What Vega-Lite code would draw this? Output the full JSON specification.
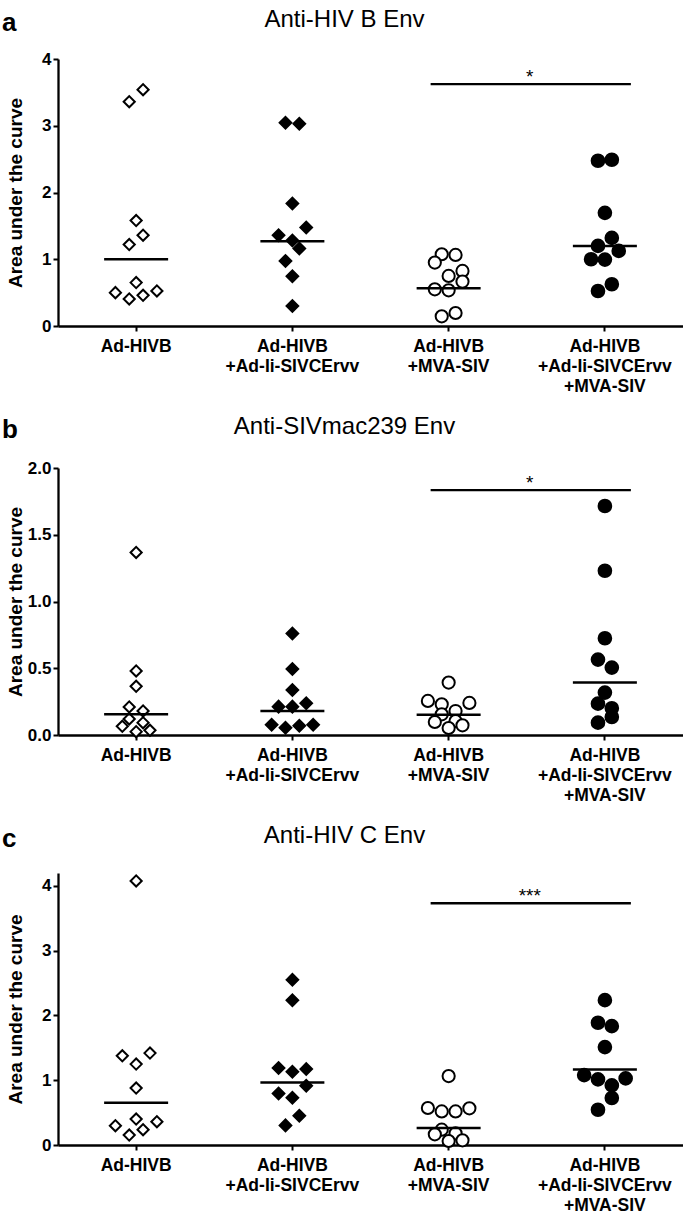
{
  "$schema": "https://vega.github.io/schema/vega-lite/v6.json",
  "background": "white",
  "padding": {"left": 1, "top": 8, "right": 0, "bottom": 0},
  "config": {
    "font": "Liberation Sans",
    "view": {"stroke": null},
    "concat": {"spacing": 20},
    "axis": {
      "grid": false, "domainColor": "black", "domainWidth": 2.3, "tickColor": "black", "tickWidth": 2,
      "labelColor": "black", "labelFont": "Liberation Sans", "labelFontWeight": "bold", "labelFontSize": 17,
      "titleFont": "Liberation Sans", "titleFontWeight": "bold", "titleFontSize": 19, "titleColor": "black"
    },
    "title": {"font": "Liberation Sans", "color": "black"}
  },
  "datasets": {
    "points": [
      {"panel": "a", "group": "Ad-HIVB", "slot": -1, "auc": 3.36},
      {"panel": "a", "group": "Ad-HIVB", "slot": 1, "auc": 3.54},
      {"panel": "a", "group": "Ad-HIVB", "slot": 0, "auc": 1.58},
      {"panel": "a", "group": "Ad-HIVB", "slot": 1, "auc": 1.36},
      {"panel": "a", "group": "Ad-HIVB", "slot": -1, "auc": 1.22},
      {"panel": "a", "group": "Ad-HIVB", "slot": 0, "auc": 0.65},
      {"panel": "a", "group": "Ad-HIVB", "slot": -3, "auc": 0.5},
      {"panel": "a", "group": "Ad-HIVB", "slot": -1, "auc": 0.405},
      {"panel": "a", "group": "Ad-HIVB", "slot": 1, "auc": 0.46},
      {"panel": "a", "group": "Ad-HIVB", "slot": 3, "auc": 0.525},
      {"panel": "a", "group": "Ad-HIVB +Ad-Ii-SIVCErvv", "slot": -1, "auc": 3.045},
      {"panel": "a", "group": "Ad-HIVB +Ad-Ii-SIVCErvv", "slot": 1, "auc": 3.03},
      {"panel": "a", "group": "Ad-HIVB +Ad-Ii-SIVCErvv", "slot": 0, "auc": 1.835},
      {"panel": "a", "group": "Ad-HIVB +Ad-Ii-SIVCErvv", "slot": 2, "auc": 1.475},
      {"panel": "a", "group": "Ad-HIVB +Ad-Ii-SIVCErvv", "slot": -2, "auc": 1.36},
      {"panel": "a", "group": "Ad-HIVB +Ad-Ii-SIVCErvv", "slot": 0, "auc": 1.28},
      {"panel": "a", "group": "Ad-HIVB +Ad-Ii-SIVCErvv", "slot": 1, "auc": 1.16},
      {"panel": "a", "group": "Ad-HIVB +Ad-Ii-SIVCErvv", "slot": -1, "auc": 0.975},
      {"panel": "a", "group": "Ad-HIVB +Ad-Ii-SIVCErvv", "slot": 0, "auc": 0.745},
      {"panel": "a", "group": "Ad-HIVB +Ad-Ii-SIVCErvv", "slot": 0, "auc": 0.3},
      {"panel": "a", "group": "Ad-HIVB +MVA-SIV", "slot": -1, "auc": 1.075},
      {"panel": "a", "group": "Ad-HIVB +MVA-SIV", "slot": 1, "auc": 1.065},
      {"panel": "a", "group": "Ad-HIVB +MVA-SIV", "slot": -2, "auc": 0.95},
      {"panel": "a", "group": "Ad-HIVB +MVA-SIV", "slot": 2, "auc": 0.825},
      {"panel": "a", "group": "Ad-HIVB +MVA-SIV", "slot": 0, "auc": 0.75},
      {"panel": "a", "group": "Ad-HIVB +MVA-SIV", "slot": 2, "auc": 0.665},
      {"panel": "a", "group": "Ad-HIVB +MVA-SIV", "slot": -2, "auc": 0.55},
      {"panel": "a", "group": "Ad-HIVB +MVA-SIV", "slot": 0, "auc": 0.535},
      {"panel": "a", "group": "Ad-HIVB +MVA-SIV", "slot": -1, "auc": 0.145},
      {"panel": "a", "group": "Ad-HIVB +MVA-SIV", "slot": 1, "auc": 0.195},
      {"panel": "a", "group": "Ad-HIVB +Ad-Ii-SIVCErvv +MVA-SIV", "slot": -1, "auc": 2.475},
      {"panel": "a", "group": "Ad-HIVB +Ad-Ii-SIVCErvv +MVA-SIV", "slot": 1, "auc": 2.49},
      {"panel": "a", "group": "Ad-HIVB +Ad-Ii-SIVCErvv +MVA-SIV", "slot": 0, "auc": 1.695},
      {"panel": "a", "group": "Ad-HIVB +Ad-Ii-SIVCErvv +MVA-SIV", "slot": 1, "auc": 1.32},
      {"panel": "a", "group": "Ad-HIVB +Ad-Ii-SIVCErvv +MVA-SIV", "slot": -1, "auc": 1.2},
      {"panel": "a", "group": "Ad-HIVB +Ad-Ii-SIVCErvv +MVA-SIV", "slot": 2, "auc": 1.125},
      {"panel": "a", "group": "Ad-HIVB +Ad-Ii-SIVCErvv +MVA-SIV", "slot": -2, "auc": 1.0},
      {"panel": "a", "group": "Ad-HIVB +Ad-Ii-SIVCErvv +MVA-SIV", "slot": 0, "auc": 0.995},
      {"panel": "a", "group": "Ad-HIVB +Ad-Ii-SIVCErvv +MVA-SIV", "slot": 1, "auc": 0.625},
      {"panel": "a", "group": "Ad-HIVB +Ad-Ii-SIVCErvv +MVA-SIV", "slot": -1, "auc": 0.525},

      {"panel": "b", "group": "Ad-HIVB", "slot": 0, "auc": 1.3675},
      {"panel": "b", "group": "Ad-HIVB", "slot": 0, "auc": 0.48},
      {"panel": "b", "group": "Ad-HIVB", "slot": 0, "auc": 0.365},
      {"panel": "b", "group": "Ad-HIVB", "slot": -1, "auc": 0.21},
      {"panel": "b", "group": "Ad-HIVB", "slot": 1, "auc": 0.18},
      {"panel": "b", "group": "Ad-HIVB", "slot": -1, "auc": 0.12},
      {"panel": "b", "group": "Ad-HIVB", "slot": 1, "auc": 0.0925},
      {"panel": "b", "group": "Ad-HIVB", "slot": -2, "auc": 0.065},
      {"panel": "b", "group": "Ad-HIVB", "slot": 2, "auc": 0.035},
      {"panel": "b", "group": "Ad-HIVB", "slot": 0, "auc": 0.025},
      {"panel": "b", "group": "Ad-HIVB +Ad-Ii-SIVCErvv", "slot": 0, "auc": 0.76},
      {"panel": "b", "group": "Ad-HIVB +Ad-Ii-SIVCErvv", "slot": 0, "auc": 0.495},
      {"panel": "b", "group": "Ad-HIVB +Ad-Ii-SIVCErvv", "slot": 0, "auc": 0.3375},
      {"panel": "b", "group": "Ad-HIVB +Ad-Ii-SIVCErvv", "slot": -2, "auc": 0.2125},
      {"panel": "b", "group": "Ad-HIVB +Ad-Ii-SIVCErvv", "slot": 0, "auc": 0.2125},
      {"panel": "b", "group": "Ad-HIVB +Ad-Ii-SIVCErvv", "slot": 2, "auc": 0.2375},
      {"panel": "b", "group": "Ad-HIVB +Ad-Ii-SIVCErvv", "slot": -3, "auc": 0.0775},
      {"panel": "b", "group": "Ad-HIVB +Ad-Ii-SIVCErvv", "slot": -1, "auc": 0.055},
      {"panel": "b", "group": "Ad-HIVB +Ad-Ii-SIVCErvv", "slot": 1, "auc": 0.07},
      {"panel": "b", "group": "Ad-HIVB +Ad-Ii-SIVCErvv", "slot": 3, "auc": 0.0775},
      {"panel": "b", "group": "Ad-HIVB +MVA-SIV", "slot": 0, "auc": 0.3925},
      {"panel": "b", "group": "Ad-HIVB +MVA-SIV", "slot": -3, "auc": 0.255},
      {"panel": "b", "group": "Ad-HIVB +MVA-SIV", "slot": -1, "auc": 0.23},
      {"panel": "b", "group": "Ad-HIVB +MVA-SIV", "slot": 3, "auc": 0.24},
      {"panel": "b", "group": "Ad-HIVB +MVA-SIV", "slot": 1, "auc": 0.18},
      {"panel": "b", "group": "Ad-HIVB +MVA-SIV", "slot": -1, "auc": 0.155},
      {"panel": "b", "group": "Ad-HIVB +MVA-SIV", "slot": -2, "auc": 0.0975},
      {"panel": "b", "group": "Ad-HIVB +MVA-SIV", "slot": 1, "auc": 0.105},
      {"panel": "b", "group": "Ad-HIVB +MVA-SIV", "slot": 2, "auc": 0.0725},
      {"panel": "b", "group": "Ad-HIVB +MVA-SIV", "slot": 0, "auc": 0.0525},
      {"panel": "b", "group": "Ad-HIVB +Ad-Ii-SIVCErvv +MVA-SIV", "slot": 0, "auc": 1.715},
      {"panel": "b", "group": "Ad-HIVB +Ad-Ii-SIVCErvv +MVA-SIV", "slot": 0, "auc": 1.23},
      {"panel": "b", "group": "Ad-HIVB +Ad-Ii-SIVCErvv +MVA-SIV", "slot": 0, "auc": 0.725},
      {"panel": "b", "group": "Ad-HIVB +Ad-Ii-SIVCErvv +MVA-SIV", "slot": -1, "auc": 0.565},
      {"panel": "b", "group": "Ad-HIVB +Ad-Ii-SIVCErvv +MVA-SIV", "slot": 1, "auc": 0.505},
      {"panel": "b", "group": "Ad-HIVB +Ad-Ii-SIVCErvv +MVA-SIV", "slot": 0, "auc": 0.3175},
      {"panel": "b", "group": "Ad-HIVB +Ad-Ii-SIVCErvv +MVA-SIV", "slot": -1, "auc": 0.235},
      {"panel": "b", "group": "Ad-HIVB +Ad-Ii-SIVCErvv +MVA-SIV", "slot": 1, "auc": 0.2},
      {"panel": "b", "group": "Ad-HIVB +Ad-Ii-SIVCErvv +MVA-SIV", "slot": 1, "auc": 0.135},
      {"panel": "b", "group": "Ad-HIVB +Ad-Ii-SIVCErvv +MVA-SIV", "slot": -1, "auc": 0.0925},

      {"panel": "c", "group": "Ad-HIVB", "slot": 0, "auc": 4.077},
      {"panel": "c", "group": "Ad-HIVB", "slot": -2, "auc": 1.378},
      {"panel": "c", "group": "Ad-HIVB", "slot": 2, "auc": 1.419},
      {"panel": "c", "group": "Ad-HIVB", "slot": 0, "auc": 1.249},
      {"panel": "c", "group": "Ad-HIVB", "slot": 0, "auc": 0.879},
      {"panel": "c", "group": "Ad-HIVB", "slot": -3, "auc": 0.298},
      {"panel": "c", "group": "Ad-HIVB", "slot": 0, "auc": 0.401},
      {"panel": "c", "group": "Ad-HIVB", "slot": 3, "auc": 0.36},
      {"panel": "c", "group": "Ad-HIVB", "slot": -1, "auc": 0.154},
      {"panel": "c", "group": "Ad-HIVB", "slot": 1, "auc": 0.236},
      {"panel": "c", "group": "Ad-HIVB +Ad-Ii-SIVCErvv", "slot": 0, "auc": 2.55},
      {"panel": "c", "group": "Ad-HIVB +Ad-Ii-SIVCErvv", "slot": 0, "auc": 2.236},
      {"panel": "c", "group": "Ad-HIVB +Ad-Ii-SIVCErvv", "slot": -2, "auc": 1.188},
      {"panel": "c", "group": "Ad-HIVB +Ad-Ii-SIVCErvv", "slot": 0, "auc": 1.131},
      {"panel": "c", "group": "Ad-HIVB +Ad-Ii-SIVCErvv", "slot": 2, "auc": 1.172},
      {"panel": "c", "group": "Ad-HIVB +Ad-Ii-SIVCErvv", "slot": -2, "auc": 0.797},
      {"panel": "c", "group": "Ad-HIVB +Ad-Ii-SIVCErvv", "slot": 2, "auc": 0.915},
      {"panel": "c", "group": "Ad-HIVB +Ad-Ii-SIVCErvv", "slot": 0, "auc": 0.73},
      {"panel": "c", "group": "Ad-HIVB +Ad-Ii-SIVCErvv", "slot": 1, "auc": 0.452},
      {"panel": "c", "group": "Ad-HIVB +Ad-Ii-SIVCErvv", "slot": -1, "auc": 0.303},
      {"panel": "c", "group": "Ad-HIVB +MVA-SIV", "slot": 0, "auc": 1.064},
      {"panel": "c", "group": "Ad-HIVB +MVA-SIV", "slot": -3, "auc": 0.571},
      {"panel": "c", "group": "Ad-HIVB +MVA-SIV", "slot": -1, "auc": 0.519},
      {"panel": "c", "group": "Ad-HIVB +MVA-SIV", "slot": 1, "auc": 0.519},
      {"panel": "c", "group": "Ad-HIVB +MVA-SIV", "slot": 3, "auc": 0.566},
      {"panel": "c", "group": "Ad-HIVB +MVA-SIV", "slot": -1, "auc": 0.237},
      {"panel": "c", "group": "Ad-HIVB +MVA-SIV", "slot": -2, "auc": 0.165},
      {"panel": "c", "group": "Ad-HIVB +MVA-SIV", "slot": 1, "auc": 0.18},
      {"panel": "c", "group": "Ad-HIVB +MVA-SIV", "slot": 0, "auc": 0.062},
      {"panel": "c", "group": "Ad-HIVB +MVA-SIV", "slot": 2, "auc": 0.072},
      {"panel": "c", "group": "Ad-HIVB +Ad-Ii-SIVCErvv +MVA-SIV", "slot": 0, "auc": 2.236},
      {"panel": "c", "group": "Ad-HIVB +Ad-Ii-SIVCErvv +MVA-SIV", "slot": -1, "auc": 1.887},
      {"panel": "c", "group": "Ad-HIVB +Ad-Ii-SIVCErvv +MVA-SIV", "slot": 1, "auc": 1.835},
      {"panel": "c", "group": "Ad-HIVB +Ad-Ii-SIVCErvv +MVA-SIV", "slot": 0, "auc": 1.512},
      {"panel": "c", "group": "Ad-HIVB +Ad-Ii-SIVCErvv +MVA-SIV", "slot": -3, "auc": 1.08},
      {"panel": "c", "group": "Ad-HIVB +Ad-Ii-SIVCErvv +MVA-SIV", "slot": -1, "auc": 1.013},
      {"panel": "c", "group": "Ad-HIVB +Ad-Ii-SIVCErvv +MVA-SIV", "slot": 1, "auc": 0.92},
      {"panel": "c", "group": "Ad-HIVB +Ad-Ii-SIVCErvv +MVA-SIV", "slot": 3, "auc": 1.028},
      {"panel": "c", "group": "Ad-HIVB +Ad-Ii-SIVCErvv +MVA-SIV", "slot": 1, "auc": 0.725},
      {"panel": "c", "group": "Ad-HIVB +Ad-Ii-SIVCErvv +MVA-SIV", "slot": -1, "auc": 0.545}
    ],
    "means": [
      {"panel": "a", "group": "Ad-HIVB", "mean": 1.0},
      {"panel": "a", "group": "Ad-HIVB +Ad-Ii-SIVCErvv", "mean": 1.27},
      {"panel": "a", "group": "Ad-HIVB +MVA-SIV", "mean": 0.565},
      {"panel": "a", "group": "Ad-HIVB +Ad-Ii-SIVCErvv +MVA-SIV", "mean": 1.2},
      {"panel": "b", "group": "Ad-HIVB", "mean": 0.155},
      {"panel": "b", "group": "Ad-HIVB +Ad-Ii-SIVCErvv", "mean": 0.18},
      {"panel": "b", "group": "Ad-HIVB +MVA-SIV", "mean": 0.1525},
      {"panel": "b", "group": "Ad-HIVB +Ad-Ii-SIVCErvv +MVA-SIV", "mean": 0.3925},
      {"panel": "c", "group": "Ad-HIVB", "mean": 0.653},
      {"panel": "c", "group": "Ad-HIVB +Ad-Ii-SIVCErvv", "mean": 0.967},
      {"panel": "c", "group": "Ad-HIVB +MVA-SIV", "mean": 0.262},
      {"panel": "c", "group": "Ad-HIVB +Ad-Ii-SIVCErvv +MVA-SIV", "mean": 1.167}
    ],
    "sig": [
      {"panel": "a", "from": "Ad-HIVB +MVA-SIV", "to": "Ad-HIVB +Ad-Ii-SIVCErvv +MVA-SIV", "y": 3.625, "label": "*"},
      {"panel": "b", "from": "Ad-HIVB +MVA-SIV", "to": "Ad-HIVB +Ad-Ii-SIVCErvv +MVA-SIV", "y": 1.835, "label": "*"},
      {"panel": "c", "from": "Ad-HIVB +MVA-SIV", "to": "Ad-HIVB +Ad-Ii-SIVCErvv +MVA-SIV", "y": 3.733, "label": "***"}
    ]
  },
  "vconcat": [
    {
      "title": {"text": "a", "anchor": "start", "frame": "bounds", "fontSize": 26, "fontWeight": "bold", "dy": 32, "dx": -4},
      "vconcat": [{
        "width": 625, "height": 267,
        "title": {"text": "Anti-HIV B Env", "fontSize": 24, "fontWeight": "normal", "anchor": "middle", "frame": "bounds", "offset": 18},
        "layer": [
          {
            "data": {"name": "points"},
            "transform": [{"filter": "datum.panel === 'a'"}],
            "mark": {"type": "point", "filled": true, "stroke": "black", "strokeWidth": 2, "opacity": 1},
            "encoding": {
              "x": {"field": "group", "type": "nominal", "scale": {"type": "band", "domain": ["Ad-HIVB", "Ad-HIVB +Ad-Ii-SIVCErvv", "Ad-HIVB +MVA-SIV", "Ad-HIVB +Ad-Ii-SIVCErvv +MVA-SIV"], "paddingInner": 0, "paddingOuter": 0},
                "axis": {"title": null, "labelAngle": 0, "labelExpr": "split(datum.value, ' ')", "labelLineHeight": 20, "tickSize": 5, "labelPadding": 6, "labelFontSize": 17.5, "labelOverlap": false}},
              "xOffset": {"field": "slot", "type": "quantitative", "scale": {"domain": [-3, 3], "range": [57.4, 98.9]}},
              "y": {"field": "auc", "type": "quantitative", "scale": {"domain": [0, 4], "nice": false},
                "axis": {"title": "Area under the curve", "values": [0, 1, 2, 3, 4], "format": "d", "tickSize": 5, "labelPadding": 2, "titleX": -43, "titleBaseline": "middle"}},
              "shape": {"field": "group", "type": "nominal", "scale": {"domain": ["Ad-HIVB", "Ad-HIVB +Ad-Ii-SIVCErvv", "Ad-HIVB +MVA-SIV", "Ad-HIVB +Ad-Ii-SIVCErvv +MVA-SIV"], "range": ["diamond", "diamond", "circle", "circle"]}, "legend": null},
              "fill": {"field": "group", "type": "nominal", "scale": {"domain": ["Ad-HIVB", "Ad-HIVB +Ad-Ii-SIVCErvv", "Ad-HIVB +MVA-SIV", "Ad-HIVB +Ad-Ii-SIVCErvv +MVA-SIV"], "range": ["white", "black", "white", "black"]}, "legend": null},
              "size": {"field": "group", "type": "ordinal", "scale": {"domain": ["Ad-HIVB", "Ad-HIVB +Ad-Ii-SIVCErvv", "Ad-HIVB +MVA-SIV", "Ad-HIVB +Ad-Ii-SIVCErvv +MVA-SIV"], "range": [125, 160, 100, 100]}, "legend": null}
            }
          },
          {
            "data": {"name": "means"},
            "transform": [{"filter": "datum.panel === 'a'"}],
            "mark": {"type": "rule", "color": "black", "strokeWidth": 2.5, "xOffset": -32, "x2Offset": 32},
            "encoding": {"x": {"field": "group", "type": "nominal"}, "x2": {"field": "group"}, "y": {"field": "mean", "type": "quantitative"}}
          },
          {
            "data": {"name": "sig"},
            "transform": [{"filter": "datum.panel === 'a'"}],
            "mark": {"type": "rule", "color": "black", "strokeWidth": 2.3, "xOffset": -18, "x2Offset": 26},
            "encoding": {"x": {"field": "from", "type": "nominal"}, "x2": {"field": "to"}, "y": {"field": "y", "type": "quantitative"}}
          },
          {
            "data": {"name": "sig"},
            "transform": [{"filter": "datum.panel === 'a'"}],
            "mark": {"type": "text", "color": "black", "fontSize": 19, "baseline": "bottom", "dy": 3, "dx": 3},
            "encoding": {"x": {"field": "to", "type": "nominal", "bandPosition": 0}, "y": {"field": "y", "type": "quantitative"}, "text": {"field": "label"}}
          }
        ]
      }]
    },
    {
      "title": {"text": "b", "anchor": "start", "frame": "bounds", "fontSize": 26, "fontWeight": "bold", "dy": 32, "dx": -4},
      "vconcat": [{
        "width": 625, "height": 267,
        "title": {"text": "Anti-SIVmac239 Env", "fontSize": 24, "fontWeight": "normal", "anchor": "middle", "frame": "bounds", "offset": 20},
        "layer": [
          {
            "data": {"name": "points"},
            "transform": [{"filter": "datum.panel === 'b'"}],
            "mark": {"type": "point", "filled": true, "stroke": "black", "strokeWidth": 2, "opacity": 1},
            "encoding": {
              "x": {"field": "group", "type": "nominal", "scale": {"type": "band", "domain": ["Ad-HIVB", "Ad-HIVB +Ad-Ii-SIVCErvv", "Ad-HIVB +MVA-SIV", "Ad-HIVB +Ad-Ii-SIVCErvv +MVA-SIV"], "paddingInner": 0, "paddingOuter": 0},
                "axis": {"title": null, "labelAngle": 0, "labelExpr": "split(datum.value, ' ')", "labelLineHeight": 20, "tickSize": 5, "labelPadding": 6, "labelFontSize": 17.5, "labelOverlap": false}},
              "xOffset": {"field": "slot", "type": "quantitative", "scale": {"domain": [-3, 3], "range": [57.4, 98.9]}},
              "y": {"field": "auc", "type": "quantitative", "scale": {"domain": [0, 2], "nice": false},
                "axis": {"title": "Area under the curve", "values": [0, 0.5, 1, 1.5, 2], "format": ".1f", "tickSize": 5, "labelPadding": 2, "titleX": -43, "titleBaseline": "middle"}},
              "shape": {"field": "group", "type": "nominal", "scale": {"domain": ["Ad-HIVB", "Ad-HIVB +Ad-Ii-SIVCErvv", "Ad-HIVB +MVA-SIV", "Ad-HIVB +Ad-Ii-SIVCErvv +MVA-SIV"], "range": ["diamond", "diamond", "circle", "circle"]}, "legend": null},
              "fill": {"field": "group", "type": "nominal", "scale": {"domain": ["Ad-HIVB", "Ad-HIVB +Ad-Ii-SIVCErvv", "Ad-HIVB +MVA-SIV", "Ad-HIVB +Ad-Ii-SIVCErvv +MVA-SIV"], "range": ["white", "black", "white", "black"]}, "legend": null},
              "size": {"field": "group", "type": "ordinal", "scale": {"domain": ["Ad-HIVB", "Ad-HIVB +Ad-Ii-SIVCErvv", "Ad-HIVB +MVA-SIV", "Ad-HIVB +Ad-Ii-SIVCErvv +MVA-SIV"], "range": [125, 160, 100, 100]}, "legend": null}
            }
          },
          {
            "data": {"name": "means"},
            "transform": [{"filter": "datum.panel === 'b'"}],
            "mark": {"type": "rule", "color": "black", "strokeWidth": 2.5, "xOffset": -32, "x2Offset": 32},
            "encoding": {"x": {"field": "group", "type": "nominal"}, "x2": {"field": "group"}, "y": {"field": "mean", "type": "quantitative"}}
          },
          {
            "data": {"name": "sig"},
            "transform": [{"filter": "datum.panel === 'b'"}],
            "mark": {"type": "rule", "color": "black", "strokeWidth": 2.3, "xOffset": -18, "x2Offset": 26},
            "encoding": {"x": {"field": "from", "type": "nominal"}, "x2": {"field": "to"}, "y": {"field": "y", "type": "quantitative"}}
          },
          {
            "data": {"name": "sig"},
            "transform": [{"filter": "datum.panel === 'b'"}],
            "mark": {"type": "text", "color": "black", "fontSize": 19, "baseline": "bottom", "dy": 3, "dx": 3},
            "encoding": {"x": {"field": "to", "type": "nominal", "bandPosition": 0}, "y": {"field": "y", "type": "quantitative"}, "text": {"field": "label"}}
          }
        ]
      }]
    },
    {
      "title": {"text": "c", "anchor": "start", "frame": "bounds", "fontSize": 26, "fontWeight": "bold", "dy": 32, "dx": -4},
      "vconcat": [{
        "width": 625, "height": 272,
        "title": {"text": "Anti-HIV C Env", "fontSize": 24, "fontWeight": "normal", "anchor": "middle", "frame": "bounds", "offset": 23},
        "layer": [
          {
            "data": {"name": "points"},
            "transform": [{"filter": "datum.panel === 'c'"}],
            "mark": {"type": "point", "filled": true, "stroke": "black", "strokeWidth": 2, "opacity": 1},
            "encoding": {
              "x": {"field": "group", "type": "nominal", "scale": {"type": "band", "domain": ["Ad-HIVB", "Ad-HIVB +Ad-Ii-SIVCErvv", "Ad-HIVB +MVA-SIV", "Ad-HIVB +Ad-Ii-SIVCErvv +MVA-SIV"], "paddingInner": 0, "paddingOuter": 0},
                "axis": {"title": null, "labelAngle": 0, "labelExpr": "split(datum.value, ' ')", "labelLineHeight": 20, "tickSize": 5, "labelPadding": 6, "labelFontSize": 17.5, "labelOverlap": false}},
              "xOffset": {"field": "slot", "type": "quantitative", "scale": {"domain": [-3, 3], "range": [57.4, 98.9]}},
              "y": {"field": "auc", "type": "quantitative", "scale": {"domain": [0, 4.2], "nice": false},
                "axis": {"title": "Area under the curve", "values": [0, 1, 2, 3, 4], "format": "d", "tickSize": 5, "labelPadding": 2, "titleX": -43, "titleBaseline": "middle"}},
              "shape": {"field": "group", "type": "nominal", "scale": {"domain": ["Ad-HIVB", "Ad-HIVB +Ad-Ii-SIVCErvv", "Ad-HIVB +MVA-SIV", "Ad-HIVB +Ad-Ii-SIVCErvv +MVA-SIV"], "range": ["diamond", "diamond", "circle", "circle"]}, "legend": null},
              "fill": {"field": "group", "type": "nominal", "scale": {"domain": ["Ad-HIVB", "Ad-HIVB +Ad-Ii-SIVCErvv", "Ad-HIVB +MVA-SIV", "Ad-HIVB +Ad-Ii-SIVCErvv +MVA-SIV"], "range": ["white", "black", "white", "black"]}, "legend": null},
              "size": {"field": "group", "type": "ordinal", "scale": {"domain": ["Ad-HIVB", "Ad-HIVB +Ad-Ii-SIVCErvv", "Ad-HIVB +MVA-SIV", "Ad-HIVB +Ad-Ii-SIVCErvv +MVA-SIV"], "range": [125, 160, 100, 100]}, "legend": null}
            }
          },
          {
            "data": {"name": "means"},
            "transform": [{"filter": "datum.panel === 'c'"}],
            "mark": {"type": "rule", "color": "black", "strokeWidth": 2.5, "xOffset": -32, "x2Offset": 32},
            "encoding": {"x": {"field": "group", "type": "nominal"}, "x2": {"field": "group"}, "y": {"field": "mean", "type": "quantitative"}}
          },
          {
            "data": {"name": "sig"},
            "transform": [{"filter": "datum.panel === 'c'"}],
            "mark": {"type": "rule", "color": "black", "strokeWidth": 2.3, "xOffset": -18, "x2Offset": 26},
            "encoding": {"x": {"field": "from", "type": "nominal"}, "x2": {"field": "to"}, "y": {"field": "y", "type": "quantitative"}}
          },
          {
            "data": {"name": "sig"},
            "transform": [{"filter": "datum.panel === 'c'"}],
            "mark": {"type": "text", "color": "black", "fontSize": 19, "baseline": "bottom", "dy": 3, "dx": 3},
            "encoding": {"x": {"field": "to", "type": "nominal", "bandPosition": 0}, "y": {"field": "y", "type": "quantitative"}, "text": {"field": "label"}}
          }
        ]
      }]
    }
  ]
}
